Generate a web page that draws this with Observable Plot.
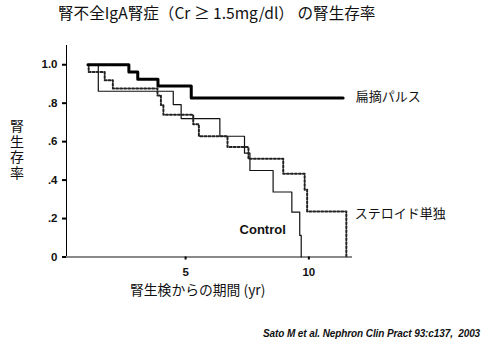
<!DOCTYPE html>
<html>
<head>
<meta charset="utf-8">
<script src="https://cdn.jsdelivr.net/npm/d3@7"></script>
<script src="https://cdn.jsdelivr.net/npm/@observablehq/plot@0.6"></script>
<style>
  html, body { margin: 0; padding: 0; background: #fff; }
  #wrap { position: relative; width: 500px; height: 353px; overflow: hidden; }
  #chart { position: absolute; left: 0; top: 0; }
  .ov { position: absolute; white-space: pre; color: #111; }
  #title { left: 58px; top: 2px; font: 15.6px "Noto Sans CJK JP", sans-serif; line-height: 20px; }
  #xlab { left: 130px; top: 279px; font: 13.8px "Noto Sans CJK JP", sans-serif; line-height: 20px; }
  #ylab { left: 9px; top: 119px; font: 14px "Noto Sans CJK JP", sans-serif; line-height: 16px; writing-mode: vertical-rl; text-orientation: upright; letter-spacing: 1.5px; }
  #cap { left: 263px; top: 327px; font: italic bold 10px "Liberation Sans", Arial, sans-serif; line-height: 14px; letter-spacing: -0.1px; }
</style>
</head>
<body>
<div id="wrap">
  <div id="chart"></div>
  <div id="title" class="ov"></div>
  <div id="ylab" class="ov"></div>
  <div id="xlab" class="ov"></div>
  <div id="cap" class="ov"></div>
</div>
<script>
// ---- texts ----
const titleText = "腎不全IgA腎症（Cr ≥ 1.5mg/dl） の腎生存率";
const yLabel = "腎生存率";
const xLabel = "腎生検からの期間 (yr)";
const caption = "Sato M et al. Nephron Clin Pract 93:c137,  2003";
const seriesNames = ["扁摘パルス", "ステロイド単独", "Control"];

// ---- ticks ----
const yTicks = [0, 0.2, 0.4, 0.6, 0.8, 1.0];
const yTickLabels = ["0", ".2", ".4", ".6", ".8", "1.0"];
const xTicks = [5, 10];
const xTickLabels = ["5", "10"];

// ---- series (time in years, survival fraction) ----
const pulseT = [1.04, 2.70, 3.06, 3.88, 5.23, 11.39];
const pulseS = [1.0, 0.9625, 0.9245, 0.89, 0.827, 0.827];

const steroidT = [1.04, 1.07, 1.72, 2.05, 3.86, 4.0, 4.1, 5.31, 5.54, 6.70, 7.55, 8.96, 9.83, 9.93, 11.52];
const steroidS = [1.0, 0.962, 0.919, 0.876, 0.84, 0.79, 0.74, 0.69, 0.628, 0.572, 0.511, 0.433, 0.35, 0.237, 0];

const controlT = [1.03, 1.46, 4.50, 4.82, 6.39, 7.39, 7.61, 8.55, 9.31, 9.63, 9.69];
const controlS = [1.0, 0.862, 0.793, 0.72, 0.628, 0.54, 0.45, 0.338, 0.233, 0.112, 0];

const toRows = (T, S) => T.map((t, i) => ({t, s: S[i]}));
const pulse = toRows(pulseT, pulseS);
const steroid = toRows(steroidT, steroidS);
const control = toRows(controlT, controlS);

const xDom = [0.17, 11.77];
const yDom = [0, 1.1];

const labels = [
  {name: seriesNames[0], t: 11.9, s: 0.832, w: "normal", f: "'Noto Sans CJK JP', sans-serif", size: 13},
  {name: seriesNames[1], t: 11.86, s: 0.226, w: "normal", f: "'Noto Sans CJK JP', sans-serif", size: 13},
  {name: seriesNames[2], t: 7.19, s: 0.143, w: "bold", f: "'Liberation Sans', Arial, sans-serif", size: 13}
];

const chart = Plot.plot({
  width: 500,
  height: 353,
  marginLeft: 66,
  marginRight: 148,
  marginTop: 45,
  marginBottom: 96.5,
  style: {fontFamily: "'Liberation Sans', Arial, sans-serif", fontSize: "11.5px", fontWeight: "bold", color: "#111", background: "transparent"},
  x: {domain: xDom},
  y: {domain: yDom},
  marks: [
    Plot.ruleX([xDom[0]], {y1: yDom[0], y2: yDom[1], stroke: "#000", strokeWidth: 1}),
    Plot.ruleY([0], {x1: xDom[0], x2: xDom[1], stroke: "#8a8a8a", strokeWidth: 2}),
    Plot.axisY({ticks: yTicks, tickFormat: (d) => yTickLabels[yTicks.indexOf(d)], tickSize: 4, tickPadding: 5, label: null, stroke: "#000", strokeWidth: 2}),
    Plot.axisX({ticks: xTicks, tickFormat: (d) => xTickLabels[xTicks.indexOf(d)], tickSize: 3, tickPadding: 8, label: null, stroke: "#000", strokeWidth: 2}),
    Plot.line(control, {x: "t", y: "s", curve: "step-after", stroke: "#111", strokeWidth: 1.2}),
    Plot.line(steroid, {x: "t", y: "s", curve: "step-after", stroke: "#222", strokeWidth: 2, strokeDasharray: "2,2"}),
    Plot.line(pulse, {x: "t", y: "s", curve: "step-after", stroke: "#000", strokeWidth: 3}),
    ...labels.map(l => Plot.text([l], {x: "t", y: "s", text: "name", textAnchor: "start", fontWeight: l.w, fontFamily: l.f, fontSize: l.size, fill: "#111"}))
  ]
});
document.getElementById("chart").appendChild(chart);
document.getElementById("title").textContent = titleText;
document.getElementById("xlab").textContent = xLabel;
document.getElementById("cap").textContent = caption;
document.getElementById("ylab").textContent = yLabel;
</script>
</body>
</html>
